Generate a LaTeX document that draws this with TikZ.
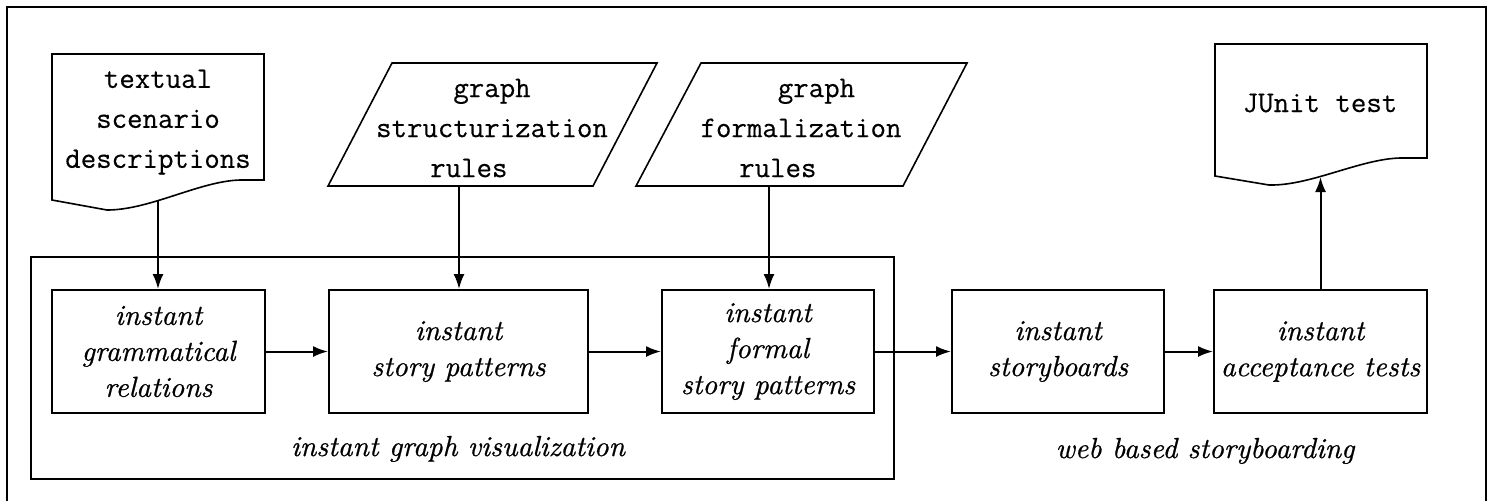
\documentclass[tikz,border=0pt]{standalone}
\usepackage{fontspec}
\newfontfamily\procfont{lmroman10-italic}[Extension=.otf,FakeBold=0.7]
\setmonofont{Latin Modern Mono}[FakeBold=0.35]
\usetikzlibrary{arrows.meta}
\begin{document}
\begin{tikzpicture}[x=0.5pt,y=-0.5pt,
  proc/.style={draw,line width=1pt,minimum height=61.5pt,inner sep=0pt,align=center,
    font=\procfont\fontsize{14.5}{18}\selectfont},
  lbl/.style={inner sep=0pt,font=\procfont\fontsize{14.5}{18}\selectfont},
  mono/.style={align=center,inner sep=0pt,font=\fontsize{15}{20}\selectfont\ttfamily},
  shapeline/.style={line width=0.8pt,line join=miter},
  conn/.style={line width=1pt,-{Latex[length=7.5pt,width=5.5pt]}},
  frameline/.style={line width=1pt}]
\useasboundingbox (0,0) rectangle (1491,500);

% outer frame (open at the bottom edge)
\draw[frameline] (7,520) -- (7,7) -- (1486,7) -- (1486,520);

% instant graph visualization group
\node[draw,line width=1pt,minimum width=431.5pt,minimum height=111pt,inner sep=0pt] (igv) at (462.5,368) {};
\node[lbl,anchor=base] (igvlbl) at (458,456) {instant graph visualization};
\node[lbl,anchor=base] (wbs) at (1205,458) {web based storyboarding};

% processing steps
\node[proc,minimum width=106.5pt] (b1) at (158.5,351.5) {instant\\grammatical\\relations};
\node[proc,minimum width=129.5pt] (b2) at (458.5,351.5) {instant\\story patterns};
\node[proc,minimum width=106pt]   (b3) at (768,351.5)   {instant\\formal\\story patterns};
\node[proc,minimum width=106pt]   (b4) at (1058,351.5)  {instant\\storyboards};
\node[proc,minimum width=106.5pt] (b5) at (1320.5,351.5) {instant\\acceptance tests};

% input document: textual scenario descriptions
\draw[shapeline] (52,200) -- (52,54) -- (264,54) -- (264,180) -- (240,180)
  .. controls (200,181) and (150,210) .. (107,210) -- cycle;
\node[mono] (doc1) at (158,122) {textual\\scenario\\descriptions};
\coordinate (doc1b) at (158,201);

% rule sets (parallelograms)
\draw[shapeline] (392,63) -- (657,63) -- (593,186) -- (328,186) -- cycle;
\node[mono] (par1) at (492,128) {graph\\structurization\\rules\phantom{xxx}};
\coordinate (par1b) at (459,186);

\draw[shapeline] (701,63) -- (967,63) -- (903,186) -- (636,186) -- cycle;
\node[mono] (par2) at (801,128) {\phantom{xx}graph\\formalization\\rules\phantom{xxx}};
\coordinate (par2b) at (769,186);

% output document: JUnit test
\draw[shapeline] (1215,176) -- (1215,44) -- (1427,44) -- (1427,158) -- (1400,158)
  .. controls (1360,159) and (1310,186) .. (1269,185) -- cycle;
\node[mono,anchor=base] (junit) at (1320,112) {JUnit test};
\coordinate (junitb) at (1320.5,177);

% connectors
\draw[conn] (doc1b) -- (doc1b |- b1.north);
\draw[conn] (par1b) -- (par1b |- b2.north);
\draw[conn] (par2b) -- (par2b |- b3.north);
\draw[conn] (b1) -- (b2);
\draw[conn] (b2) -- (b3);
\draw[conn] (b3) -- (b4);
\draw[conn] (b4) -- (b5);
\draw[conn] (b5.north) -- (junitb);
\end{tikzpicture}
\end{document}
